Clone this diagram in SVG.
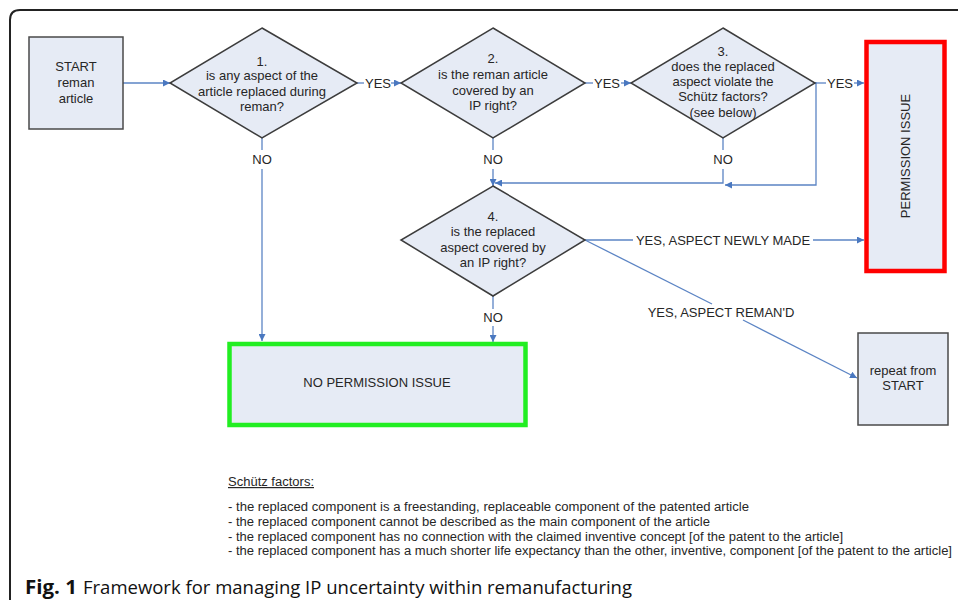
<svg xmlns="http://www.w3.org/2000/svg" width="958" height="600" viewBox="0 0 958 600">
<defs>
<style>
.t{font-family:"Liberation Sans",Arial,sans-serif;font-size:13px;fill:#262626;text-anchor:middle}
.box{fill:#e6ebf5;stroke:#4a4a4a;stroke-width:1.5}
.dia{fill:#e6ebf5;stroke:#3c3c3c;stroke-width:1.5}
.c{fill:none;stroke:#5b84c4;stroke-width:1.3}
.s{font-family:"Liberation Sans",Arial,sans-serif;font-size:12px;fill:#262626}
.cap{font-family:"Open Sans","Liberation Sans",sans-serif;font-size:19px;fill:#111}
</style>
<marker id="ah" viewBox="0 0 10 10" refX="10" refY="5" markerWidth="7" markerHeight="7" orient="auto" markerUnits="userSpaceOnUse">
<path d="M0,0 L10,5 L0,10 z" fill="#4a78c0"/>
</marker>
</defs>
<rect width="958" height="600" fill="#ffffff"/>
<path d="M10,600 L10,20 Q10,10 20,10 L958,10" fill="none" stroke="#222" stroke-width="2"/>

<g id="connectors">
<line class="c" x1="123" y1="83" x2="170" y2="83" marker-end="url(#ah)"/>
<line class="c" x1="357" y1="83" x2="364" y2="83"/>
<line class="c" x1="391" y1="83" x2="401" y2="83" marker-end="url(#ah)"/>
<line class="c" x1="585" y1="83" x2="593" y2="83"/>
<line class="c" x1="621" y1="83" x2="631" y2="83" marker-end="url(#ah)"/>
<line class="c" x1="815" y1="83" x2="826" y2="83"/>
<line class="c" x1="854" y1="83" x2="864" y2="83" marker-end="url(#ah)"/>
<line class="c" x1="262" y1="138" x2="262" y2="150"/>
<line class="c" x1="262" y1="169" x2="262" y2="341" marker-end="url(#ah)"/>
<line class="c" x1="493" y1="138" x2="493" y2="150"/>
<line class="c" x1="493" y1="169" x2="493" y2="186" marker-end="url(#ah)"/>
<line class="c" x1="723" y1="138" x2="723" y2="150"/>
<polyline class="c" points="723,169 723,183 495,183" marker-end="url(#ah)"/>
<polyline class="c" points="815,83 816,83 816,185 725,185" marker-end="url(#ah)"/>
<line class="c" x1="493" y1="296" x2="493" y2="309"/>
<line class="c" x1="493" y1="326" x2="493" y2="342" marker-end="url(#ah)"/>
<line class="c" x1="585" y1="240" x2="633" y2="240"/>
<line class="c" x1="813" y1="240" x2="864" y2="240" marker-end="url(#ah)"/>
<line class="c" x1="585" y1="240" x2="712" y2="304"/>
<line class="c" x1="743" y1="320" x2="857" y2="378" marker-end="url(#ah)"/>
<text class="t" x="378" y="88">YES</text>
<text class="t" x="607" y="88">YES</text>
<text class="t" x="840" y="88">YES</text>
<text class="t" x="262" y="164">NO</text>
<text class="t" x="493" y="164">NO</text>
<text class="t" x="723" y="164">NO</text>
<text class="t" x="493" y="322">NO</text>
<text class="t" x="723" y="245">YES, ASPECT NEWLY MADE</text>
<text class="t" x="721" y="317">YES, ASPECT REMAN'D</text>
</g>

<g id="start">
<rect class="box" x="29" y="37" width="94" height="92"/>
<text class="t" x="76" y="71">START</text>
<text class="t" x="76" y="87">reman</text>
<text class="t" x="76" y="103">article</text>
</g>

<g id="q1">
<polygon class="dia" points="262,28 357,83 262,138 170,83"/>
<text class="t" x="262" y="66">1.</text>
<text class="t" x="262" y="80">is any aspect of the</text>
<text class="t" x="262" y="96">article replaced during</text>
<text class="t" x="262" y="111">reman?</text>
</g>

<g id="q2">
<polygon class="dia" points="493,28 585,83 493,138 401,83"/>
<text class="t" x="493" y="63">2.</text>
<text class="t" x="493" y="79">is the reman article</text>
<text class="t" x="493" y="95">covered by an</text>
<text class="t" x="493" y="110">IP right?</text>
</g>

<g id="q3">
<polygon class="dia" points="723,28 815,83 723,138 631,83"/>
<text class="t" x="723" y="56">3.</text>
<text class="t" x="723" y="71">does the replaced</text>
<text class="t" x="723" y="86">aspect violate the</text>
<text class="t" x="723" y="101">Schütz factors?</text>
<text class="t" x="723" y="117">(see below)</text>
</g>

<g id="q4">
<polygon class="dia" points="493,186 585,240 493,296 401,240"/>
<text class="t" x="493" y="221">4.</text>
<text class="t" x="493" y="236">is the replaced</text>
<text class="t" x="493" y="252">aspect covered by</text>
<text class="t" x="493" y="267">an IP right?</text>
</g>

<g id="permission-issue">
<rect x="866.5" y="42" width="78" height="229" fill="#e6ebf5" stroke="#ff0000" stroke-width="4.5"/>
<text class="t" transform="translate(909.5,156) rotate(-90)" x="0" y="0">PERMISSION ISSUE</text>
</g>

<g id="no-permission-issue">
<rect x="229.5" y="344" width="296" height="81" fill="#e6ebf5" stroke="#22ee22" stroke-width="4.5"/>
<text class="t" x="377" y="387">NO PERMISSION ISSUE</text>
</g>

<g id="repeat">
<rect class="box" x="858" y="333" width="90" height="92"/>
<text class="t" x="903" y="375">repeat from</text>
<text class="t" x="903" y="390">START</text>
</g>

<g id="schutz">
<text class="s" x="228" y="486" textLength="86" lengthAdjust="spacingAndGlyphs" text-decoration="underline">Schütz factors:</text>
<text class="s" x="228" y="511" textLength="521" lengthAdjust="spacingAndGlyphs">- the replaced component is a freestanding, replaceable component of the patented article</text>
<text class="s" x="228" y="526" textLength="482" lengthAdjust="spacingAndGlyphs">- the replaced component cannot be described as the main component of the article</text>
<text class="s" x="228" y="541" textLength="615" lengthAdjust="spacingAndGlyphs">- the replaced component has no connection with the claimed inventive concept [of the patent to the article]</text>
<text class="s" x="228" y="555" textLength="724" lengthAdjust="spacingAndGlyphs">- the replaced component has a much shorter life expectancy than the other, inventive, component [of the patent to the article]</text>
</g>

<g id="caption">
<text class="cap" x="25" y="594" font-weight="bold" textLength="52" lengthAdjust="spacingAndGlyphs">Fig. 1</text>
<text class="cap" x="83" y="594" textLength="549" lengthAdjust="spacingAndGlyphs">Framework for managing IP uncertainty within remanufacturing</text>
</g>
</svg>
